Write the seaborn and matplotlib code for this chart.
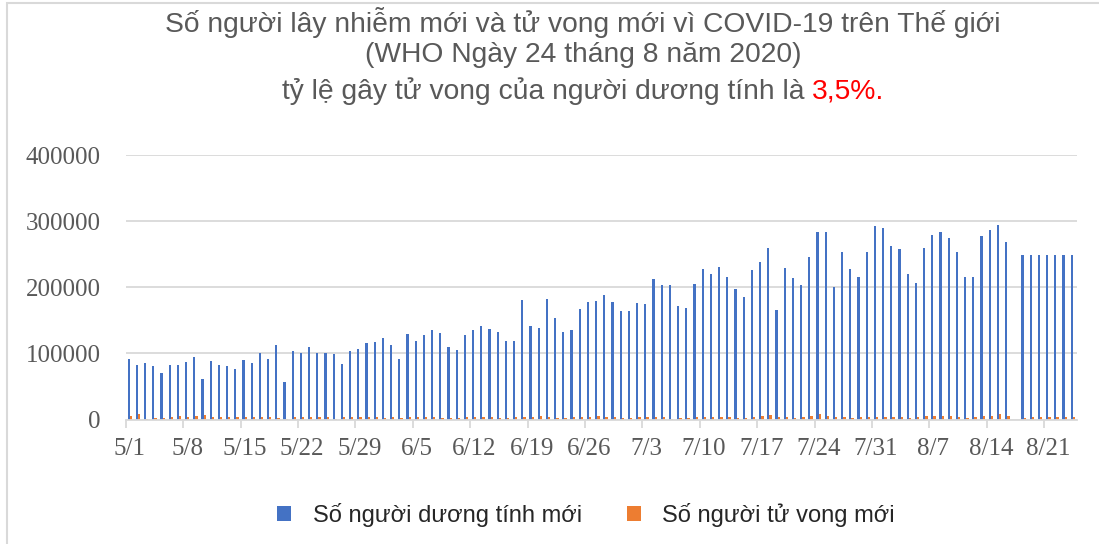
import numpy as np
import pandas as pd
import seaborn as sns
import matplotlib.pyplot as plt
from matplotlib.patches import Patch, Rectangle

# Daily values (WHO, 5/1 - 8/24/2020), 8/17 has no data
cases_may = [91000, 82000, 85000, 81000, 71000, 83000, 83000, 87000, 95000, 61000,
             88000, 82000, 81000, 77000, 90000, 86000, 100000, 92000, 112000, 57000,
             104000, 100000, 109000, 101000, 100000, 99000, 84000, 104000, 107000, 116000,
             117000]
cases_jun = [123000, 113000, 92000, 129000, 118000, 128000, 136000, 131000, 109000, 105000,
             128000, 136000, 142000, 137000, 132000, 118000, 119000, 181000, 142000, 139000,
             182000, 153000, 132000, 135000, 167000, 177000, 179000, 189000, 178000, 164000]
cases_jul = [164000, 176000, 175000, 212000, 204000, 203000, 172000, 169000, 205000, 228000,
             220000, 230000, 216000, 197000, 185000, 226000, 238000, 260000, 166000, 229000,
             214000, 203000, 246000, 284000, 284000, 201000, 254000, 227000, 215000, 254000,
             292000]
cases_aug = [289000, 263000, 258000, 220000, 207000, 259000, 279000, 284000, 274000, 254000,
             216000, 215000, 277000, 287000, 294000, 268000, np.nan, 249000, 249000, 249000,
             249000, 249000, 249000, 249000]

deaths_may = [5300, 8000, 1500, 2500, 2500, 4500, 5000, 4500, 5000, 7000,
              3500, 3500, 3500, 3500, 4000, 4000, 4500, 3500, 3000, 1000,
              3500, 3500, 4500, 3500, 3500, 500, 4000, 3500, 3500, 3500,
              3500]
deaths_jun = [3000, 3500, 2000, 4000, 4000, 4000, 3500, 2000, 2500, 2500,
              4000, 4000, 4000, 3500, 2500, 2500, 4000, 4500, 4000, 5000,
              4000, 3000, 3000, 3500, 4000, 4000, 5500, 3500, 3500, 3000]
deaths_jul = [2500, 4000, 4000, 4000, 4500, 500, 2500, 3000, 4500, 4500,
              4500, 4500, 4000, 2500, 2500, 4500, 5500, 7000, 4500, 4000,
              2500, 4000, 5500, 9000, 5500, 4000, 4000, 2500, 3500, 4500,
              4500]
deaths_aug = [4500, 4500, 4500, 3000, 3500, 5000, 5500, 5000, 5000, 4500,
              3000, 3500, 5000, 5500, 9000, 5500, np.nan, 3000, 4000, 3500,
              4000, 3500, 3500, 3500]

series_names = ["Số người dương tính mới", "Số người tử vong mới"]
colors = ["#4472C4", "#ED7D31"]

dates = pd.date_range("2020-05-01", "2020-08-24")
day_labels = [f"{d.month}/{d.day}" for d in dates]
cases = cases_may + cases_jun + cases_jul + cases_aug
deaths = deaths_may + deaths_jun + deaths_jul + deaths_aug

df = pd.DataFrame({"day": day_labels, series_names[0]: cases, series_names[1]: deaths})
df = df.melt(id_vars="day", var_name="series", value_name="value").dropna()

fig = plt.figure(figsize=(10.99, 5.44), dpi=100)
ax = fig.add_axes([125.7 / 1099, 1 - 419.5 / 544, (1077 - 125.7) / 1099, (419.5 - 155) / 544])

sns.barplot(data=df, x="day", y="value", hue="series", order=day_labels,
            hue_order=series_names, palette=colors, width=0.55, dodge=True,
            errorbar=None, saturation=1, linewidth=0, legend=False, ax=ax)

grey_txt = "#595959"
ax.set_ylim(0, 400000)
ax.set_xlim(-0.5, len(day_labels) - 0.5)
ax.set_yticks([0, 100000, 200000, 300000, 400000])
ax.set_yticklabels(["0", "100000", "200000", "300000", "400000"],
                   fontfamily="Liberation Serif", fontsize=18, color=grey_txt)
ax.yaxis.grid(True, color="#d9d9d9", linewidth=1.3)
ax.set_axisbelow(True)
ax.tick_params(axis="y", length=0, pad=18)

# tick marks between days, labels every 7 days centred under the day
week = list(range(0, len(day_labels), 7))
ax.set_xticks([i - 0.5 for i in week])
ax.set_xticklabels([""] * len(week))
ax.set_xticks(week, minor=True)
ax.set_xticklabels([day_labels[i] for i in week], minor=True,
                   fontfamily="Liberation Serif", fontsize=18, color=grey_txt)
ax.tick_params(axis="x", which="major", length=6, color="#d9d9d9", width=1.3)
ax.tick_params(axis="x", which="minor", length=0, pad=13)

for side in ["top", "right", "left"]:
    ax.spines[side].set_visible(False)
ax.spines["bottom"].set_color("#d9d9d9")
ax.spines["bottom"].set_linewidth(1.3)
ax.set_xlabel("")
ax.set_ylabel("")

# chart border
fig.patches.append(Rectangle((7 / 1099, -0.05), 1.1, 1.05 - 3 / 544, transform=fig.transFigure,
                             fill=False, edgecolor="#d9d9d9", linewidth=1.5))

# title
tx = 583 / 1099
fs_title = 20.3
fig.text(tx, 1 - 23 / 544, "Số người lây nhiễm mới và tử vong mới vì COVID-19 trên Thế giới",
         ha="center", va="center", fontsize=fs_title, color=grey_txt, fontfamily="Liberation Sans")
fig.text(tx, 1 - 55 / 544, "(WHO Ngày 24 tháng 8 năm 2020)",
         ha="center", va="center", fontsize=fs_title, color=grey_txt, fontfamily="Liberation Sans")
part1 = "tỷ lệ gây tử vong của người dương tính là "
part2 = "3,5%."
renderer = fig.canvas.get_renderer()
t1 = fig.text(0, 1 - 91 / 544, part1, ha="left", va="center", fontsize=fs_title,
              color=grey_txt, fontfamily="Liberation Sans")
t2 = fig.text(0, 1 - 91 / 544, part2, ha="left", va="center", fontsize=fs_title,
              color="#FF0000", fontfamily="Liberation Sans")
w1 = t1.get_window_extent(renderer).width / fig.bbox.width
w2 = t2.get_window_extent(renderer).width / fig.bbox.width
x0 = tx - (w1 + w2) / 2
t1.set_x(x0)
t2.set_x(x0 + w1)

handles = [Patch(facecolor=c, edgecolor="none") for c in colors]
fig.legend(handles, series_names, loc="center", bbox_to_anchor=(586 / 1099, 1 - 515 / 544),
           ncol=2, frameon=False, prop={"family": "Liberation Sans", "size": 17},
           labelcolor="#262626", handlelength=0.6, handleheight=0.6, columnspacing=1.9,
           handletextpad=0.9)

fig.savefig("out.png", dpi=100)
